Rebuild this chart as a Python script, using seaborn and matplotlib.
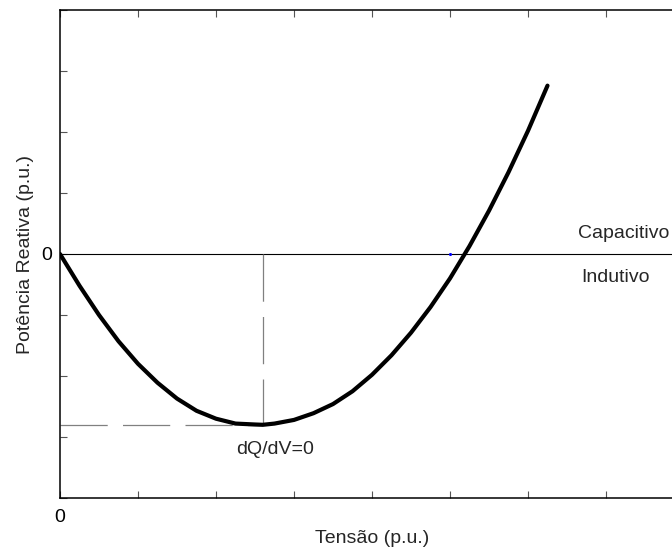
import matplotlib
matplotlib.use("Agg")
import matplotlib.pyplot as plt
import seaborn as sns
import pandas as pd
import numpy as np

# Q-V curve of the bus (per unit)
tensao = [0.00, 0.25, 0.50, 0.75, 1.00, 1.25, 1.50, 1.75, 2.00, 2.25, 2.50, 2.60,
          2.75, 3.00, 3.25, 3.50, 3.75, 4.00, 4.25, 4.50, 4.75, 5.00, 5.25,
          5.50, 5.75, 6.00, 6.25]
potencia = [0.00, -0.52, -1.00, -1.43, -1.80, -2.11, -2.37, -2.57, -2.70, -2.78, -2.795, -2.80,
            -2.78, -2.72, -2.61, -2.46, -2.25, -1.98, -1.66, -1.29, -0.87, -0.40, 0.13,
            0.71, 1.34, 2.02, 2.76]

# isolated operating point on the zero axis
ponto_v = [5.0]
ponto_q = [0.0]

x_ticks = [0, 1, 2, 3, 4, 5, 6, 7, 8]
y_ticks = [-4, -3, -2, -1, 0, 1, 2, 3, 4]
x_labels = ["0", "", "", "", "", "", "", "", ""]
y_labels = ["", "", "", "", "0", "", "", "", ""]

sns.set_theme(style="white")
plt.rcParams["font.family"] = ["Liberation Sans", "DejaVu Sans"]
plt.rcParams["lines.scale_dashes"] = False

df = pd.DataFrame({"V": tensao, "Q": potencia})

fig = plt.figure(figsize=(6.72, 5.54), dpi=100)
ax = fig.add_axes([60 / 672, 56 / 554, 624 / 672, 488 / 554])

# reference line Q = 0
ax.axhline(0, color="black", lw=0.8, zorder=1)

# dashed guides to the minimum (dQ/dV = 0)
i_min = int(np.argmin(potencia))
v_min, q_min = tensao[i_min], potencia[i_min]
ax.plot([0, v_min], [q_min, q_min], color="#808080", lw=0.9,
        dashes=(34, 11), zorder=2)
ax.plot([v_min, v_min], [0, q_min], color="#808080", lw=0.9,
        dashes=(34, 11), zorder=2)

sns.lineplot(data=df, x="V", y="Q", sort=False, color="black", lw=3.0,
             ax=ax, zorder=3, solid_joinstyle="round", solid_capstyle="round")
ax.scatter(ponto_v, ponto_q, s=5, color="blue", zorder=4, linewidths=0)

ax.set_xlim(0, 8)
ax.set_ylim(-4, 4)
ax.set_xticks(x_ticks)
ax.set_xticklabels(x_labels)
ax.set_yticks(y_ticks)
ax.set_yticklabels(y_labels)
ax.tick_params(axis="both", direction="in", length=5, width=0.8,
               color="#555555", labelsize=14, labelcolor="black",
               top=True, right=False, bottom=True, left=True)
ax.tick_params(axis="x", pad=8)
ax.tick_params(axis="y", pad=6)

for side in ["left", "bottom", "top"]:
    ax.spines[side].set_visible(True)
    ax.spines[side].set_color("black")
    ax.spines[side].set_linewidth(1.1)
ax.spines["right"].set_visible(False)

ax.set_xlabel("Tensão (p.u.)", fontsize=14, labelpad=3)
ax.set_ylabel("Potência Reativa (p.u.)", fontsize=14, labelpad=5)

ax.text(7.23, 0.34, "Capacitivo", fontsize=14, ha="center", va="center")
ax.text(7.12, -0.38, "Indutivo", fontsize=14, ha="center", va="center")
ax.text(v_min + 0.16, q_min - 0.41, "dQ/dV=0", fontsize=14, ha="center", va="center")

fig.savefig("out.png", dpi=100)
